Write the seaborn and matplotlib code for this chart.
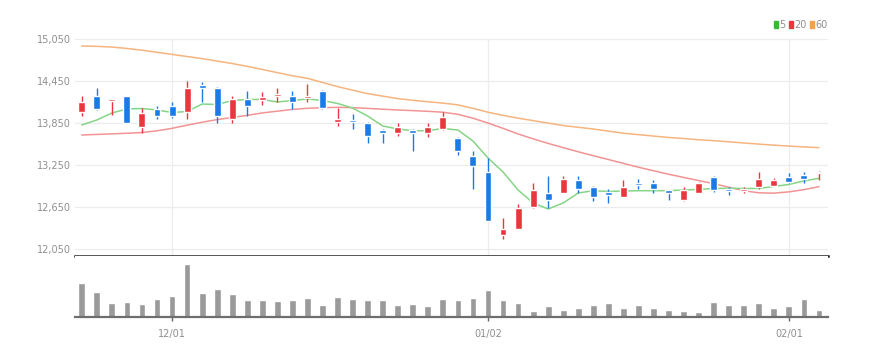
import numpy as np
import pandas as pd
import matplotlib
matplotlib.use("Agg")
import matplotlib.pyplot as plt
from matplotlib.patches import Patch
import seaborn as sns

# Daily candles (price in KRW)
opens = [14013, 14241, 14165, 14241, 13799, 14047, 14094, 14013, 14394, 14347,
         13908, 14194, 14184, 14232, 14241, 14204, 14308, 13866, 13894, 13856,
         13751, 13704, 13751, 13704, 13761, 13642, 13385, 13150, 12249, 12343,
         12648, 12857, 12857, 13038, 12942, 12867, 12800, 12999, 12999, 12895,
         12752, 12857, 13085, 12905, 12876, 12942, 12952, 13085, 13109, 13133]
highs = [14237, 14355, 14200, 14241, 14061, 14094, 14155, 14451, 14441, 14360,
         14241, 14308, 14298, 14347, 14308, 14404, 14320, 14061, 13980, 13870,
         13760, 13847, 13760, 13847, 14008, 13650, 13452, 13347, 12491, 12696,
         12999, 13095, 13095, 13095, 12950, 12905, 13038, 13048, 13038, 12900,
         12934, 13010, 13090, 12942, 12934, 13156, 13062, 13142, 13156, 13160]
lows = [13951, 14040, 13965, 13856, 13704, 13904, 13918, 13908, 14155, 13847,
        13847, 13955, 14108, 14155, 14051, 14147, 14050, 13809, 13761, 13562,
        13562, 13666, 13452, 13656, 13750, 13395, 12905, 12450, 12192, 12340,
        12640, 12634, 12850, 12848, 12743, 12705, 12795, 12905, 12857, 12752,
        12745, 12850, 12871, 12824, 12848, 12914, 12950, 13000, 12990, 13038]
closes = [14147, 14051, 14194, 13856, 13990, 13951, 13951, 14347, 14355, 13951,
          14194, 14098, 14222, 14269, 14147, 14241, 14061, 13904, 13861, 13666,
          13704, 13799, 13704, 13799, 13941, 13456, 13242, 12453, 12343, 12634,
          12895, 12752, 13048, 12905, 12800, 12828, 12942, 12962, 12905, 12857,
          12895, 12999, 12895, 12876, 12905, 13048, 13038, 13014, 13048, 13156]

# moving averages as drawn on the chart
ma5 = [13823, 13894, 13994, 14051, 14058, 14037, 14001, 14015, 14122, 14115,
       14172, 14187, 14187, 14151, 14172, 14194, 14172, 14130, 14065, 13951,
       13809, 13766, 13741, 13741, 13773, 13751, 13594, 13352, 13152, 12895,
       12710, 12624, 12710, 12852, 12885, 12874, 12881, 12885, 12885, 12885,
       12895, 12902, 12917, 12919, 12917, 12917, 12945, 12974, 13024, 13062]
ma20 = [13680, 13688, 13696, 13705, 13715, 13740, 13775, 13820, 13862, 13900,
        13930, 13960, 13995, 14020, 14045, 14061, 14070, 14075, 14070, 14060,
        14048, 14037, 14028, 14018, 14005, 13975, 13920, 13850, 13775, 13695,
        13625, 13560, 13500, 13440, 13385, 13330, 13275, 13220, 13170, 13120,
        13075, 13030, 12985, 12935, 12885, 12855, 12850, 12868, 12900, 12942]
ma60 = [14950, 14945, 14935, 14915, 14890, 14860, 14830, 14800, 14770, 14735,
        14700, 14660, 14615, 14570, 14525, 14489, 14430, 14370, 14320, 14270,
        14235, 14200, 14175, 14155, 14135, 14110, 14060, 14005, 13960, 13920,
        13885, 13850, 13815, 13790, 13765, 13735, 13705, 13685, 13665, 13645,
        13630, 13612, 13599, 13583, 13566, 13550, 13535, 13522, 13510, 13499]

volume = [34400, 25000, 14400, 15000, 13400, 18400, 20700, 52700, 24000, 28000,
          23400, 17400, 16700, 16000, 16700, 19000, 12400, 20000, 18400, 17400,
          16700, 12400, 13400, 11000, 18400, 16700, 19000, 26700, 16700, 14000,
          6000, 11000, 7400, 9000, 12000, 13700, 9000, 12400, 8700, 7400,
          6000, 5400, 15000, 12400, 12400, 13700, 9000, 10700, 18400, 6700]

date_ticks = [6, 27, 47]
date_labels = ['12/01', '01/02', '02/01']
price_ticks = [12050, 12650, 13250, 13850, 14450, 15050]

UP = '#e8383d'
DOWN = '#1a7ae6'
C5, C20, C60 = '#86d486', '#f29494', '#f6b47e'

df = pd.DataFrame({'open': opens, 'high': highs, 'low': lows, 'close': closes,
                   'ma5': ma5, 'ma20': ma20, 'ma60': ma60, 'volume': volume})
df['idx'] = np.arange(len(df))
df['color'] = np.where(df['close'] >= df['open'], UP, DOWN)

sns.set_style("white")
plt.rcParams['font.family'] = ['Liberation Sans Narrow', 'DejaVu Sans']

fig = plt.figure(figsize=(8.78, 3.56), dpi=100)
ax = fig.add_axes([75 / 878, 1 - 256 / 356, 753 / 878, 217 / 356])
axv = fig.add_axes([75 / 878, 1 - 317 / 356, 753 / 878, 61 / 356])

# grid
for p in price_ticks:
    ax.axhline(p, color='#ececec', lw=0.9, zorder=0)
for t in date_ticks:
    ax.axvline(t, color='#ececec', lw=0.9, zorder=0)

# moving averages
sns.lineplot(x=df['idx'], y=df['ma60'], color=C60, lw=1.1, ax=ax, zorder=2)
sns.lineplot(x=df['idx'], y=df['ma20'], color=C20, lw=1.1, ax=ax, zorder=2)
sns.lineplot(x=df['idx'], y=df['ma5'], color=C5, lw=1.1, ax=ax, zorder=2)

# candles
body_lo = df[['open', 'close']].min(axis=1)
body_h = (df['close'] - df['open']).abs().clip(lower=22)
ax.vlines(df['idx'], df['low'], df['high'], colors=df['color'], lw=1, zorder=3)
ax.bar(df['idx'], body_h, bottom=body_lo, width=0.46, color=df['color'], zorder=4)

ax.set_xlim(-0.45, 49.6)
ax.set_ylim(11953, 15050)
ax.set_yticks(price_ticks)
ax.set_yticklabels([f'{p:,}' for p in price_ticks])
ax.set_xticks([])
ax.set_xlabel('')
ax.set_ylabel('')
ax.tick_params(axis='y', length=0, pad=3, labelsize=7, labelcolor='#8f8f8f')
for s in ['top', 'right', 'left']:
    ax.spines[s].set_visible(False)
ax.spines['bottom'].set_color('#222222')
ax.spines['bottom'].set_linewidth(1.8)

handles = [Patch(color='#2fbf2f', label='5'), Patch(color=UP, label='20'),
           Patch(color='#f5a04a', label='60')]
ax.legend(handles=handles, loc='center right', bbox_to_anchor=(1.0, 1.065),
          ncol=3, frameon=False, handlelength=0.4, handleheight=0.8,
          handletextpad=0.2, columnspacing=0.3, fontsize=7,
          labelcolor='#8f8f8f', borderaxespad=0, borderpad=0)

# volume
sns.barplot(x=df['idx'], y=df['volume'], native_scale=True, width=0.45,
            color='#9a9a9a', saturation=1, errorbar=None, ax=axv)
axv.set_xlim(-0.45, 49.6)
axv.set_ylim(0, 61000)
axv.set_yticks([])
axv.set_xticks(date_ticks)
axv.set_xticklabels(date_labels)
axv.set_xlabel('')
axv.set_ylabel('')
axv.tick_params(axis='x', length=3, width=1, color='#666666', pad=6,
                labelsize=7, labelcolor='#8f8f8f', bottom=True)
for s in ['top', 'right', 'left']:
    axv.spines[s].set_visible(False)
axv.spines['bottom'].set_color('#6e6e6e')
axv.spines['bottom'].set_linewidth(1.6)

fig.savefig('out.png', dpi=100, facecolor='white')
